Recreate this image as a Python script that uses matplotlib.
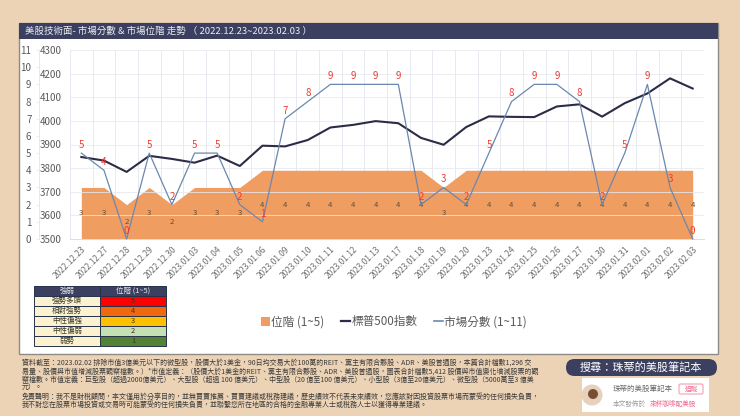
import matplotlib
matplotlib.use('Agg')
import matplotlib.pyplot as plt
from matplotlib.patches import Rectangle, FancyBboxPatch, Circle
from matplotlib.lines import Line2D

plt.rcParams['font.family'] = ['Noto Sans CJK TC', 'DejaVu Sans']
plt.rcParams['axes.unicode_minus'] = False

W, H = 740, 416

# data
dates = ['2022.12.23', '2022.12.27', '2022.12.28', '2022.12.29', '2022.12.30', '2023.01.03', '2023.01.04',
         '2023.01.05', '2023.01.06', '2023.01.09', '2023.01.10', '2023.01.11', '2023.01.12', '2023.01.13',
         '2023.01.17', '2023.01.18', '2023.01.19', '2023.01.20', '2023.01.23', '2023.01.24', '2023.01.25',
         '2023.01.26', '2023.01.27', '2023.01.30', '2023.01.31', '2023.02.01', '2023.02.02', '2023.02.03']
level = [3, 3, 2, 3, 2, 3, 3, 3, 4, 4, 4, 4, 4, 4, 4, 4, 3, 4, 4, 4, 4, 4, 4, 4, 4, 4, 4, 4]
score = [5, 4, 0, 5, 2, 5, 5, 2, 1, 7, 8, 9, 9, 9, 9, 2, 3, 2, 5, 8, 9, 9, 8, 2, 5, 9, 3, 0]
sp500 = [3847, 3832, 3784, 3852, 3839, 3823, 3853, 3809, 3895, 3892, 3919, 3972, 3983, 3999,
         3990, 3928, 3899, 3974, 4019, 4017, 4016, 4061, 4070, 4018, 4075, 4116, 4180, 4137]
score_ticks = list(range(0, 12))
index_ticks = list(range(3500, 4301, 100))

table_head = ['強弱', '位階 (1~5)']
table_names = ['強勢多頭', '相對強勢', '中性偏強', '中性偏弱', '弱勢']
table_levels = ['5', '4', '3', '2', '1']
table_colors = ['#FF0000', '#F0690F', '#FFC000', '#C5E0B3', '#548235']

note_lines = [
    '資料截至：2023.02.02 排除市值3億美元以下的微型股，股價大於1美金，90日均交易大於100萬的REIT、黨主有限合夥股、ADR、美股普通股，本篇合計檔數1,296 交',
    '易量、股價與市值增減股票觀察檔數。）*市值定義：（股價大於1美金的REIT、黨主有限合夥股、ADR、美股普通股，圖表合計檔數5,412 股價與市值變化增減股票的觀',
    '察檔數。市值定義：巨型股（超過2000億美元）、大型股（超過 100 億美元）、中型股（20 億至100 億美元）、小型股（3億至20億美元）、微型股（5000萬至3 億美',
    '元）。',
    '免責聲明：我不是財稅顧問，本文僅用於分享目的，並無買賣推薦、買賣建議或稅務建議，歷史績效不代表未來績效，您應該對因投資股票市場而蒙受的任何損失負責，',
    '我不對您在股票市場投資或交易時可能蒙受的任何損失負責，並聯繫您所在地區的合格的金融專業人士或稅務人士以獲得專業建議。',
]

BG = '#EDD3B5'
NAVY = '#3B3F60'
GRID = '#E6E9EF'
GRAY = '#595959'
ORANGE = '#F09D62'
BLUE = '#6C87AE'
RED = '#EE3B36'

fig = plt.figure(figsize=(W / 100, H / 100), dpi=100, facecolor=BG)

# page decoration, in pixel coordinates
bg = fig.add_axes([0, 0, 1, 1], zorder=0)
bg.set_xlim(0, W)
bg.set_ylim(H, 0)
bg.axis('off')
bg.add_patch(Rectangle((19, 23), 699, 331, fc='white', ec='#8E8A86', lw=1))
bg.add_patch(Rectangle((19, 23), 699, 16, fc=NAVY, ec='none'))
bg.text(25, 31.5, '美股技術面- 市場分數 & 市場位階 走勢 （ 2022.12.23~2023.02.03 ）', color='#EDEDF2',
        fontsize=6.8, va='center', ha='left')

for i, line in enumerate(note_lines):
    bg.text(22, [363, 371.5, 380, 388, 397, 405][i], line, fontsize=5.03, color='#3A3A3A', va='center', ha='left')

bg.add_patch(FancyBboxPatch((566, 359), 151, 17, boxstyle='round,pad=0,rounding_size=8.5', fc=NAVY, ec='none'))
bg.text(641, 367.5, '搜尋：珠蒂的美股筆記本', color='white', fontsize=8, va='center', ha='center')
bg.add_patch(Rectangle((582, 378), 127, 34, fc='white', ec='none'))
bg.add_patch(Circle((592, 395), 10.5, fc='#E6D2BC', ec='none'))
bg.add_patch(Circle((593, 394), 5, fc='#7A4E33', ec='none'))
bg.text(613, 388.5, '珠蒂的美股筆記本', color='#6A6A6A', fontsize=5.4, va='center', ha='left')
bg.add_patch(FancyBboxPatch((679, 384), 24, 10, boxstyle='round,pad=0,rounding_size=1.5', fc='white',
                            ec='#F4A0B4', lw=0.8))
bg.text(691, 389, '追蹤', color='#EE6A8C', fontsize=4.8, va='center', ha='center')
bg.text(613, 404, '本文發佈於', color='#9A9A9A', fontsize=4.8, va='center', ha='left')
bg.text(650, 404, '來杯咖啡配美股', color='#F0668C', fontsize=4.8, va='center', ha='left')

# main chart: area on the 0~11 axis, index line on the 3500~4300 axis
x = list(range(len(dates)))
ax = fig.add_axes([70 / W, 1 - 239 / H, 634 / W, 189 / H], zorder=1)
ax.patch.set_alpha(0)
ax.set_xlim(-0.5, len(dates) - 0.5)
ax.set_ylim(0, 11)
ax.fill_between(x, level, 0, color=ORANGE, lw=0, zorder=2)
for i, v in enumerate(level):
    ax.text(i, v / 2, str(v), color='#5A5040', fontsize=5.6, ha='center', va='center', zorder=3)

ax.set_xticks(x)
ax.set_xticklabels(dates, rotation=45, ha='right', rotation_mode='anchor', fontsize=6, color='#6E6E6E')
ax.set_xticks([i - 0.5 for i in range(len(dates) + 1)], minor=True)
ax.tick_params(axis='x', which='both', length=0, pad=4)
ax.grid(True, axis='x', which='minor', color=GRID, lw=0.7, zorder=1)
ax.set_axisbelow(True)
ax.set_yticks(score_ticks)
ax.tick_params(axis='y', length=2, width=0.6, color=GRID, labelsize=7, labelcolor=GRAY, pad=3.5)
for s in ['top', 'right']:
    ax.spines[s].set_visible(False)
ax.spines['bottom'].set_color('#DDDDDD')
ax.spines['bottom'].set_linewidth(0.7)
ax.spines['left'].set_position(('outward', 22.3))
ax.spines['left'].set_color(GRID)
ax.spines['left'].set_linewidth(0.7)

ax2 = ax.twinx()
ax2.set_zorder(2)
ax2.patch.set_alpha(0)
ax2.set_ylim(3500, 4300)
ax2.set_yticks(index_ticks)
ax2.yaxis.set_ticks_position('left')
ax2.yaxis.set_label_position('left')
ax2.tick_params(axis='y', length=0, labelsize=7, labelcolor=GRAY, pad=6)
ax2.grid(True, axis='y', color=GRID, lw=0.7, alpha=0.8)
for s in ax2.spines.values():
    s.set_visible(False)
ax2.plot(x, sp500, color='#2B2C45', lw=1.5, solid_joinstyle='round', zorder=3)

ax3 = ax.twinx()
ax3.set_zorder(3)
ax3.patch.set_alpha(0)
ax3.set_ylim(0, 11)
ax3.set_yticks([])
for s in ax3.spines.values():
    s.set_visible(False)
ax3.plot(x, score, color=BLUE, lw=0.9, clip_on=False, zorder=3)
for i, v in enumerate(score):
    ax3.annotate(str(v), (i, v), xytext=(0, 5.8), textcoords='offset points', color=RED, fontsize=7,
                 ha='center', va='center', zorder=4)

handles = [Rectangle((0, 0), 1, 1, fc=ORANGE, ec='none'),
           Line2D([0], [0], color='#2B2C45', lw=1.6),
           Line2D([0], [0], color=BLUE, lw=1.2)]
fig.legend(handles, ['位階 (1~5)', '標普500指數', '市場分數 (1~11)'], ncol=3, frameon=False,
           loc='center', bbox_to_anchor=(394 / W, 1 - 322 / H), fontsize=8.4, labelcolor=GRAY,
           handlelength=0.75, handleheight=0.8, handletextpad=0.1, columnspacing=1.45)

# strength table
tb = fig.add_axes([34 / W, 1 - 346 / H, 132 / W, 60 / H], zorder=1)
tb.axis('off')
cells = [[n, l] for n, l in zip(table_names, table_levels)]
colors = [['#FDF2D0', c] for c in table_colors]
tab = tb.table(cellText=cells, cellColours=colors, colLabels=table_head, colColours=[NAVY, NAVY],
               cellLoc='center', bbox=[0, 0, 1, 1])
tab.auto_set_font_size(False)
for (r, c), cell in tab.get_celld().items():
    cell.set_linewidth(0.7)
    cell.set_edgecolor('#26324A')
    cell.get_text().set_fontsize(5.4)
    cell.get_text().set_color('#E8E8EE' if r == 0 else '#3A3A2A')

fig.savefig('out.png', dpi=100, facecolor=BG)
